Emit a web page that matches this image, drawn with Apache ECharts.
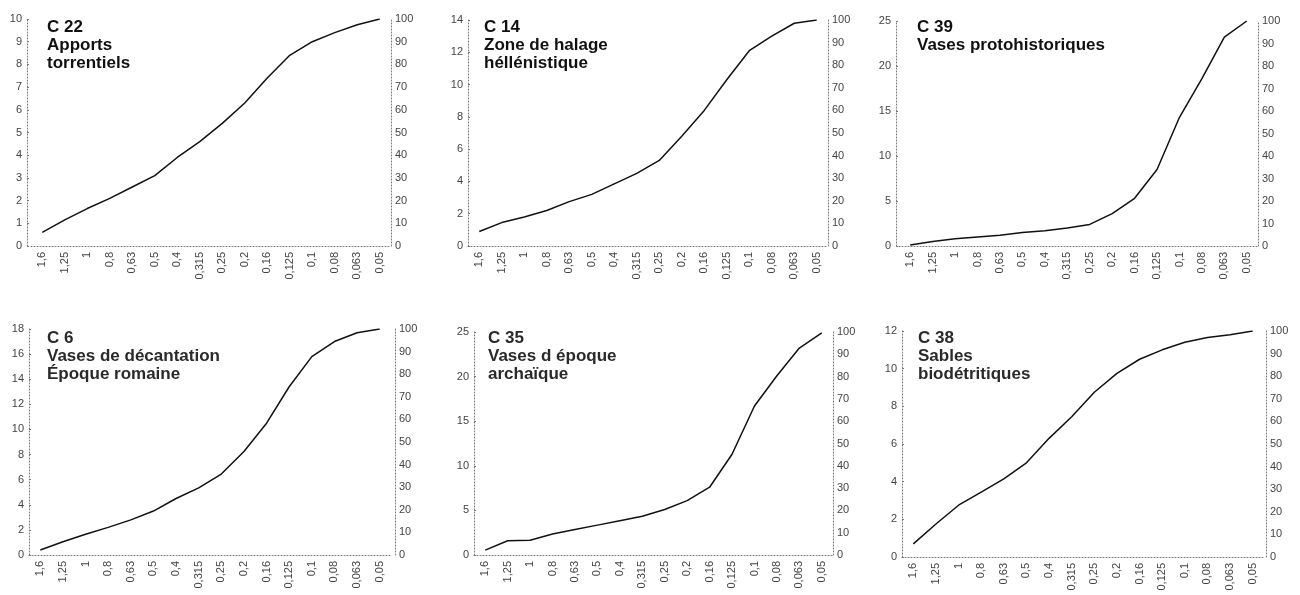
<!DOCTYPE html>
<html>
<head>
<meta charset="utf-8">
<script src="https://cdn.jsdelivr.net/npm/echarts@6/dist/echarts.min.js"></script>
<style>
  html, body { margin: 0; padding: 0; background: #fff; }
  #chart { width: 1300px; height: 595px; }
</style>
</head>
<body>
<div id="chart"></div>
<script>
// grain sizes (mm), left to right
const sizes = ['1,6', '1,25', '1', '0,8', '0,63', '0,5', '0,4', '0,315', '0,25', '0,2', '0,16', '0,125', '0,1', '0,08', '0,063', '0,05'];

// cumulative weights per sample
const c22 = [0.6, 1.15, 1.65, 2.1, 2.6, 3.1, 3.9, 4.6, 5.4, 6.3, 7.4, 8.4, 9.0, 9.4, 9.75, 10.0];
const c14 = [0.9, 1.45, 1.8, 2.2, 2.75, 3.2, 3.85, 4.5, 5.3, 6.8, 8.4, 10.3, 12.1, 13.0, 13.8, 14.0];
const c39 = [0.1, 0.5, 0.8, 1.0, 1.2, 1.5, 1.7, 2.0, 2.4, 3.6, 5.3, 8.5, 14.3, 18.6, 23.2, 25.0];
const c6 = [0.4, 1.05, 1.65, 2.2, 2.8, 3.5, 4.5, 5.35, 6.45, 8.25, 10.5, 13.4, 15.8, 17.0, 17.7, 18.0];
const c35 = [0.55, 1.6, 1.65, 2.35, 2.85, 3.35, 3.85, 4.35, 5.1, 6.1, 7.6, 11.3, 16.7, 20.1, 23.2, 24.9];
const c38 = [0.7, 1.75, 2.75, 3.45, 4.15, 5.0, 6.3, 7.45, 8.75, 9.75, 10.5, 11.0, 11.4, 11.65, 11.8, 12.0];

const sampleIds = ['C 22', 'C 14', 'C 39', 'C 6', 'C 35', 'C 38'];
const sampleNames = ['Apports\ntorrentiels', 'Zone de halage\nhéllénistique', 'Vases protohistoriques',
  'Vases de décantation\nÉpoque romaine', 'Vases d époque\narchaïque', 'Sables\nbiodétritiques'];
const sampleValues = [c22, c14, c39, c6, c35, c38];
const leftMax = [10, 14, 25, 18, 25, 12];
const leftStep = [1, 2, 5, 2, 5, 2];
const pctMax = 100;
const pctStep = 10;

// panel geometry: [left, top, width, height, leftAxisOffset, rightAxisOffset]
const panels = [
  [31, 19, 360, 227, 4, 0],
  [468, 20, 360, 226, 0, 0],
  [899, 21, 359, 225, 3, 0],
  [29, 329, 362, 226, 0, 4],
  [474, 332, 359, 223, 0, 0],
  [902, 331, 362, 226, 0, 2]
];
const titlePos = [[47, 18], [484, 18], [917, 18], [47, 329], [488, 329], [918, 329]];

const font = 'Liberation Sans, Arial, sans-serif';
const dotted = { show: true, lineStyle: { color: '#777', type: [1, 2], width: 1 } };
const labelStyle = { color: '#444', fontSize: 11, fontFamily: font };

const chart = echarts.init(document.getElementById('chart'));

const option = {
  animation: false,
  backgroundColor: '#fff',
  title: sampleIds.map((id, i) => ({
    text: id + '\n' + sampleNames[i],
    left: titlePos[i][0],
    top: titlePos[i][1],
    padding: 0,
    textStyle: {
      fontFamily: font,
      fontSize: 17,
      fontWeight: 'bold',
      lineHeight: 18,
      color: i < 3 ? '#111' : '#2a2a2a'
    }
  })),
  grid: panels.map(p => ({ left: p[0], top: p[1], width: p[2], height: p[3] })),
  xAxis: panels.map((p, i) => ({
    type: 'category',
    gridIndex: i,
    data: sizes,
    boundaryGap: true,
    axisLine: dotted,
    axisTick: { show: false },
    axisLabel: { ...labelStyle, rotate: 90, interval: 0, margin: 6 }
  })),
  yAxis: panels.flatMap((p, i) => [
    {
      type: 'value',
      gridIndex: i,
      position: 'left',
      offset: p[4],
      min: 0,
      max: leftMax[i],
      interval: leftStep[i],
      axisLine: dotted,
      axisTick: { show: true, inside: true, length: 2, lineStyle: { color: '#777' } },
      splitLine: { show: false },
      axisLabel: { ...labelStyle, margin: 5 }
    },
    {
      type: 'value',
      gridIndex: i,
      position: 'right',
      offset: p[5],
      min: 0,
      max: pctMax,
      interval: pctStep,
      axisLine: dotted,
      axisTick: { show: false },
      splitLine: { show: false },
      axisLabel: { ...labelStyle, margin: 4 }
    }
  ]),
  series: sampleValues.map((vals, i) => ({
    type: 'line',
    xAxisIndex: i,
    yAxisIndex: i * 2,
    data: vals,
    showSymbol: false,
    lineStyle: { color: '#111', width: 1.5 }
  }))
};

chart.setOption(option);
</script>
</body>
</html>
